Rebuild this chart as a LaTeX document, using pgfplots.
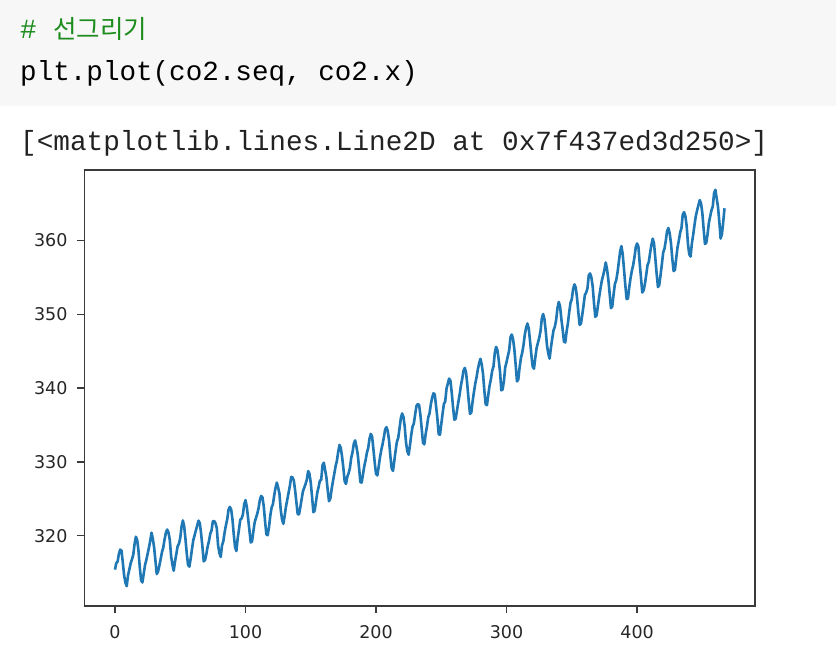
\documentclass[border=0pt]{standalone}
\usepackage{pgfplots}
\usepackage{pgfplotstable}
\pgfplotsset{compat=1.18}
\usepackage{fontspec}
\setmainfont{DejaVu Sans}
\newfontfamily\codefont{Liberation Mono}
\newfontfamily\krfont{Noto Sans CJK KR}
\definecolor{cellbg}{HTML}{F7F7F7}
\definecolor{cmtgreen}{HTML}{1C8C1C}
\definecolor{mplblue}{HTML}{1F77B4}
\definecolor{spine}{HTML}{3A3A3A}
\definecolor{tickc}{HTML}{262626}
\definecolor{outtext}{HTML}{222222}
\pgfplotstableread[row sep=\\]{
y\\
315.42\\316.31\\316.50\\317.56\\318.13\\318.00\\316.39\\314.65\\313.68\\313.18\\314.66\\315.43\\
316.27\\316.81\\317.42\\318.87\\319.87\\319.43\\318.01\\315.74\\314.00\\313.68\\314.84\\316.03\\
316.73\\317.54\\318.38\\319.31\\320.42\\319.61\\318.42\\316.63\\314.83\\315.16\\315.94\\316.85\\
317.78\\318.40\\319.53\\320.42\\320.85\\320.45\\319.45\\317.25\\316.11\\315.27\\316.53\\317.53\\
318.58\\318.92\\319.70\\321.22\\322.08\\321.31\\319.58\\317.61\\316.05\\315.83\\316.91\\318.20\\
319.41\\320.07\\320.74\\321.40\\322.06\\321.73\\320.27\\318.54\\316.54\\316.71\\317.53\\318.55\\
319.27\\320.28\\320.73\\321.97\\322.00\\321.71\\321.05\\318.71\\317.66\\317.14\\318.70\\319.25\\
320.46\\321.43\\322.23\\323.54\\323.91\\323.59\\322.24\\320.20\\318.48\\317.94\\319.63\\320.87\\
322.17\\322.34\\322.88\\324.25\\324.83\\323.93\\322.38\\320.76\\319.10\\319.24\\320.56\\321.80\\
322.40\\322.99\\323.73\\324.86\\325.40\\325.20\\323.98\\321.95\\320.18\\320.09\\321.16\\322.74\\
323.83\\324.26\\325.47\\326.50\\327.21\\326.54\\325.72\\323.50\\322.22\\321.62\\322.69\\323.95\\
324.89\\325.82\\326.77\\327.97\\327.91\\327.50\\326.18\\324.53\\322.93\\322.90\\323.85\\324.96\\
326.01\\326.51\\327.01\\327.62\\328.76\\328.40\\327.20\\325.27\\323.20\\323.40\\324.63\\325.85\\
326.60\\327.47\\327.58\\329.56\\329.90\\328.92\\327.88\\326.16\\324.68\\325.04\\326.34\\327.39\\
328.37\\329.40\\330.14\\331.33\\332.31\\331.90\\330.70\\329.15\\327.35\\327.02\\327.99\\328.48\\
329.18\\330.55\\331.32\\332.48\\332.92\\332.08\\331.01\\329.23\\327.27\\327.21\\328.29\\329.41\\
330.23\\331.25\\331.87\\333.14\\333.80\\333.43\\331.73\\329.90\\328.40\\328.17\\329.32\\330.59\\
331.58\\332.39\\333.33\\334.41\\334.71\\334.17\\332.89\\330.77\\329.14\\328.78\\330.14\\331.52\\
332.75\\333.24\\334.53\\335.90\\336.57\\336.10\\334.76\\332.59\\331.42\\330.98\\332.24\\333.68\\
334.80\\335.22\\336.47\\337.59\\337.84\\337.72\\336.37\\334.51\\332.60\\332.38\\333.75\\334.78\\
336.05\\336.59\\337.79\\338.71\\339.30\\339.12\\337.56\\335.92\\333.75\\333.70\\335.12\\336.56\\
337.84\\338.19\\339.91\\340.60\\341.29\\341.00\\339.39\\337.43\\335.72\\335.84\\336.93\\338.04\\
339.06\\340.30\\341.21\\342.33\\342.74\\342.08\\340.32\\338.26\\336.52\\336.68\\338.19\\339.44\\
340.57\\341.44\\342.53\\343.39\\343.96\\343.18\\341.88\\339.65\\337.81\\337.69\\339.09\\340.32\\
341.20\\342.35\\342.93\\344.77\\345.58\\345.14\\343.81\\342.21\\339.69\\339.82\\340.98\\342.82\\
343.52\\344.33\\345.11\\346.88\\347.25\\346.62\\345.22\\343.11\\340.90\\341.18\\342.80\\344.04\\
344.79\\345.82\\347.25\\348.17\\348.74\\348.07\\346.38\\344.51\\342.92\\342.62\\344.06\\345.38\\
346.11\\346.78\\347.68\\349.37\\350.03\\349.37\\347.76\\345.73\\344.68\\343.99\\345.48\\346.72\\
347.84\\348.29\\349.23\\350.80\\351.66\\351.07\\349.33\\347.92\\346.27\\346.18\\347.64\\348.78\\
350.25\\351.54\\352.05\\353.41\\354.04\\353.62\\352.22\\350.27\\348.55\\348.72\\349.91\\351.18\\
352.60\\352.92\\353.53\\355.26\\355.52\\354.97\\353.75\\351.52\\349.64\\349.83\\351.14\\352.37\\
353.50\\354.55\\355.23\\356.04\\357.00\\356.07\\354.67\\352.76\\350.82\\351.04\\352.69\\354.07\\
354.59\\355.63\\357.03\\358.48\\359.22\\358.12\\356.06\\353.92\\352.05\\352.11\\353.64\\354.89\\
355.88\\356.63\\357.72\\359.07\\359.58\\359.17\\356.94\\354.92\\352.94\\353.23\\354.09\\355.33\\
356.63\\357.10\\358.32\\359.41\\360.23\\359.55\\357.53\\355.48\\353.67\\353.95\\355.30\\356.78\\
358.34\\358.89\\359.95\\361.25\\361.67\\360.94\\359.55\\357.49\\355.84\\356.00\\357.59\\359.05\\
359.98\\361.03\\361.66\\363.48\\363.82\\363.30\\361.94\\359.50\\358.11\\357.80\\359.61\\360.74\\
362.09\\363.29\\364.06\\364.76\\365.45\\365.01\\363.70\\361.54\\359.51\\359.65\\360.80\\362.38\\
363.23\\364.06\\364.61\\366.40\\366.84\\365.68\\364.52\\362.57\\360.24\\360.83\\362.49\\364.34\\
}\cotwo
\begin{document}
\begin{tikzpicture}
\fill[white] (0pt,0pt) rectangle (836pt,-670pt);
\fill[cellbg] (0pt,0pt) rectangle (836pt,-106pt);
\node[anchor=base west, inner sep=0, text=cmtgreen, font=\codefont\fontsize{27.6}{30}\selectfont] at (20pt,-38pt) {\#\ {\krfont\fontsize{25.5}{28}\selectfont 선그리기}};
\node[anchor=base west, inner sep=0, text=black, font=\codefont\fontsize{27.6}{30}\selectfont] at (20pt,-80pt) {plt.plot(co2.seq, co2.x)};
\node[anchor=base west, inner sep=0, text=outtext, font=\codefont\fontsize{27.7}{30}\selectfont] at (20pt,-150pt) {[<matplotlib.lines.Line2D at 0x7f437ed3d250>]};
\begin{axis}[at={(84.5pt,-606pt)}, anchor=south west, scale only axis,
  width=670.5pt, height=436pt,
  xmin=-23.35, xmax=490.35, ymin=310.497, ymax=369.523,
  xtick={0,100,200,300,400}, ytick={320,330,340,350,360},
  tick align=outside, tick pos=left, major tick length=7pt,
  axis line style={spine, line width=1.6pt},
  every tick/.style={spine, line width=1.3pt},
  ticklabel style={font=\fontsize{17.5}{18}\selectfont, text=tickc},
  /pgf/number format/assume math mode=true,
  /pgf/number format/1000 sep={},
  xticklabel style={yshift=-9pt},
  yticklabel style={xshift=-6.5pt},
  clip=true]
\addplot[mplblue, line width=2.6pt, line join=round, no markers] table[x expr=\coordindex, y=y] {\cotwo};
\end{axis}
\end{tikzpicture}
\end{document}
